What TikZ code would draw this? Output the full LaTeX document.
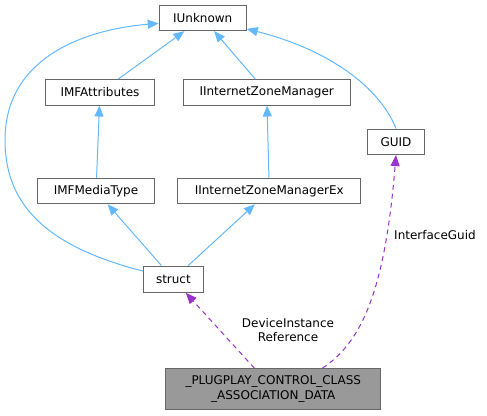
\documentclass[tikz,border=0pt]{standalone}
\usepackage{fontspec}
\setmainfont{DejaVu Sans}
\usetikzlibrary{arrows.meta}
\definecolor{edgeblue}{HTML}{63B8FF}
\definecolor{edgepurple}{HTML}{9A32CD}
\definecolor{boxgray}{HTML}{666666}
\definecolor{mainfill}{HTML}{999999}
\begin{document}
\begin{tikzpicture}[x=1pt,y=-1pt,
  cls/.style={draw=boxgray, line width=1pt, fill=white, inner sep=0pt, minimum height=25.5pt,
    font=\fontsize{12}{14.6}\selectfont, align=center},
  inh/.style={draw=edgeblue, line width=1pt, -{Triangle[length=11pt,width=9pt]}},
  use/.style={draw=edgepurple, line width=1pt, dash pattern=on 5pt off 4pt, -{Triangle[length=11pt,width=9pt]}},
  lbl/.style={font=\fontsize{12}{14}\selectfont, align=center, inner sep=0pt}]
\useasboundingbox (0,0) rectangle (487,415);
\node[cls, minimum width=87pt] (iunk) at (202.7,17.9) {IUnknown};
\node[cls, minimum width=108.6pt] (imfa) at (100,92.3) {IMFAttributes};
\node[cls, minimum width=167.3pt] (iizm) at (266.7,92.3) {IInternetZoneManager};
\node[cls, minimum width=56.6pt] (guid) at (396,141.8) {GUID};
\node[cls, minimum width=116.6pt] (imfm) at (96,191) {IMFMediaType};
\node[cls, minimum width=183.3pt] (iizmex) at (269.3,191) {IInternetZoneManagerEx};
\node[cls, minimum width=59.3pt, minimum height=26.3pt] (struct) at (173.4,279.2) {struct};
\node[cls, fill=mainfill, minimum width=215.3pt, minimum height=40.6pt] (main) at (273.3,389) {\_PLUGPLAY\_CONTROL\_CLASS\\\_ASSOCIATION\_DATA};

\draw[inh] (imfa) -- (iunk);
\draw[inh] (iizm) -- (iunk);
\draw[inh] (guid.north) .. controls (380,88) and (330,50) .. (iunk.-14);
\draw[inh] (struct.165) .. controls (40,245) and (5,200) .. (5,140) .. controls (5,60) and (80,30) .. (iunk.187);
\draw[inh] (imfm) -- (imfa);
\draw[inh] (iizmex) -- (iizm);
\draw[inh] (struct) -- (imfm);
\draw[inh] (struct) -- (iizmex);
\draw[use] (main) -- (struct);
\draw[use] ([xshift=-59pt]main.north east) .. controls (362,342) and (385,290) .. (guid.south);

\node[lbl] (l1) at (288,330) {DeviceInstance\\Reference};
\node[lbl] (l2) at (435,235) {InterfaceGuid};
\end{tikzpicture}
\end{document}
